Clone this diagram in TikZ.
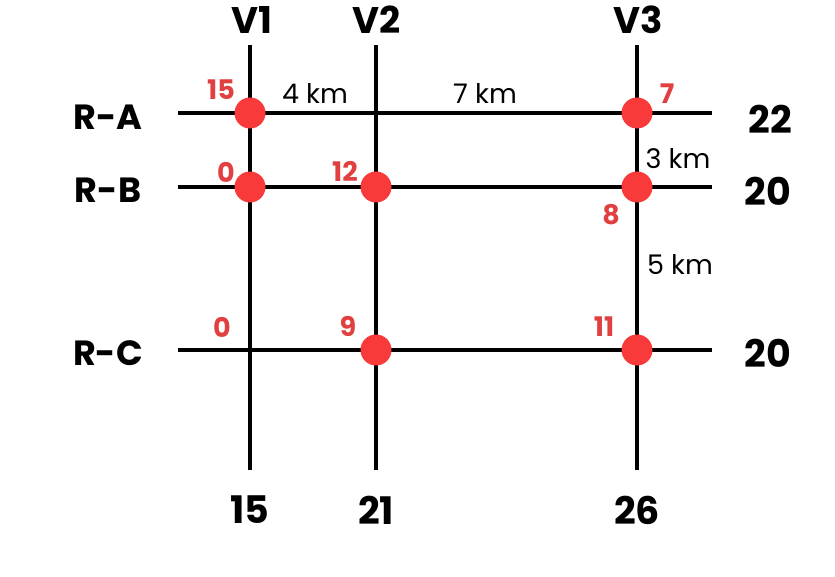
\documentclass[tikz,border=0pt]{standalone}
\usepackage{fontspec}
\setmainfont{Poppins}
\definecolor{dotred}{RGB}{248,58,58}
\definecolor{labred}{RGB}{226,64,64}
\tikzset{
  road/.style={line width=3.4pt, black},
  junction/.style={circle, fill=dotred, inner sep=0pt, minimum size=31pt},
  head/.style={font=\bfseries\fontsize{37}{40}\selectfont, text=black, inner sep=0pt},
  rowhead/.style={font=\bfseries\fontsize{35}{38}\selectfont, text=black, inner sep=0pt},
  total/.style={font=\bfseries\fontsize{38}{42}\selectfont, text=black, inner sep=0pt},
  redlab/.style={font=\bfseries\fontsize{27}{30}\selectfont, text=labred, inner sep=0pt},
  dist/.style={font=\fontsize{27}{30}\selectfont, text=black, inner sep=0pt}
}
\begin{document}
\begin{tikzpicture}[x=1pt,y=-1pt]
\useasboundingbox (0,0) rectangle (835,577);
% road ends
\coordinate (v1t) at (250,45);  \coordinate (v1b) at (250,470);
\coordinate (v2t) at (376,45);  \coordinate (v2b) at (376,470);
\coordinate (v3t) at (637,45);  \coordinate (v3b) at (637,470);
\coordinate (ral) at (178,113); \coordinate (rar) at (712,113);
\coordinate (rbl) at (178,187); \coordinate (rbr) at (712,187);
\coordinate (rcl) at (178,350); \coordinate (rcr) at (712,350);
% roads
\draw[road] (v1t) -- (v1b);
\draw[road] (v2t) -- (v2b);
\draw[road] (v3t) -- (v3b);
\draw[road] (ral) -- (rar);
\draw[road] (rbl) -- (rbr);
\draw[road] (rcl) -- (rcr);
% junctions
\node[junction] (a1) at (250,113) {};
\node[junction] (a3) at (637,113) {};
\node[junction] (b1) at (250,187) {};
\node[junction] (b2) at (376,187) {};
\node[junction] (b3) at (637,187) {};
\node[junction] (c2) at (376,350) {};
\node[junction] (c3) at (637,350) {};
% headings
\node[head] (hv1) at (252,20) {V1};
\node[head] (hv2) at (377,20) {V2};
\node[head] (hv3) at (638,20) {V3};
\node[rowhead] (hra) at (108,117) {R-A};
\node[rowhead] (hrb) at (108,190) {R-B};
\node[rowhead] (hrc) at (108,353) {R-C};
% totals
\node[total] (tra) at (770,119) {22};
\node[total] (trb) at (768,191) {20};
\node[total] (trc) at (768,353) {20};
\node[total] (tv1) at (250,510) {15};
\node[total] (tv2) at (376,510) {21};
\node[total] (tv3) at (637,510) {26};
% red labels
\node[redlab] (l15) at (221,90) {15};
\node[redlab] (l0a) at (226,172) {0};
\node[redlab] (l12) at (345,171) {12};
\node[redlab] (l7) at (667,94) {7};
\node[redlab] (l8) at (611,215) {8};
\node[redlab] (l0b) at (222,327) {0};
\node[redlab] (l9) at (348,326) {9};
\node[redlab] (l11) at (604,327) {11};
% distances
\node[dist] (d4) at (315,94) {4 km};
\node[dist] (d7) at (485,94) {7 km};
\node[dist] (d3) at (678,159) {3 km};
\node[dist] (d5) at (680,265) {5 km};
\end{tikzpicture}
\end{document}
